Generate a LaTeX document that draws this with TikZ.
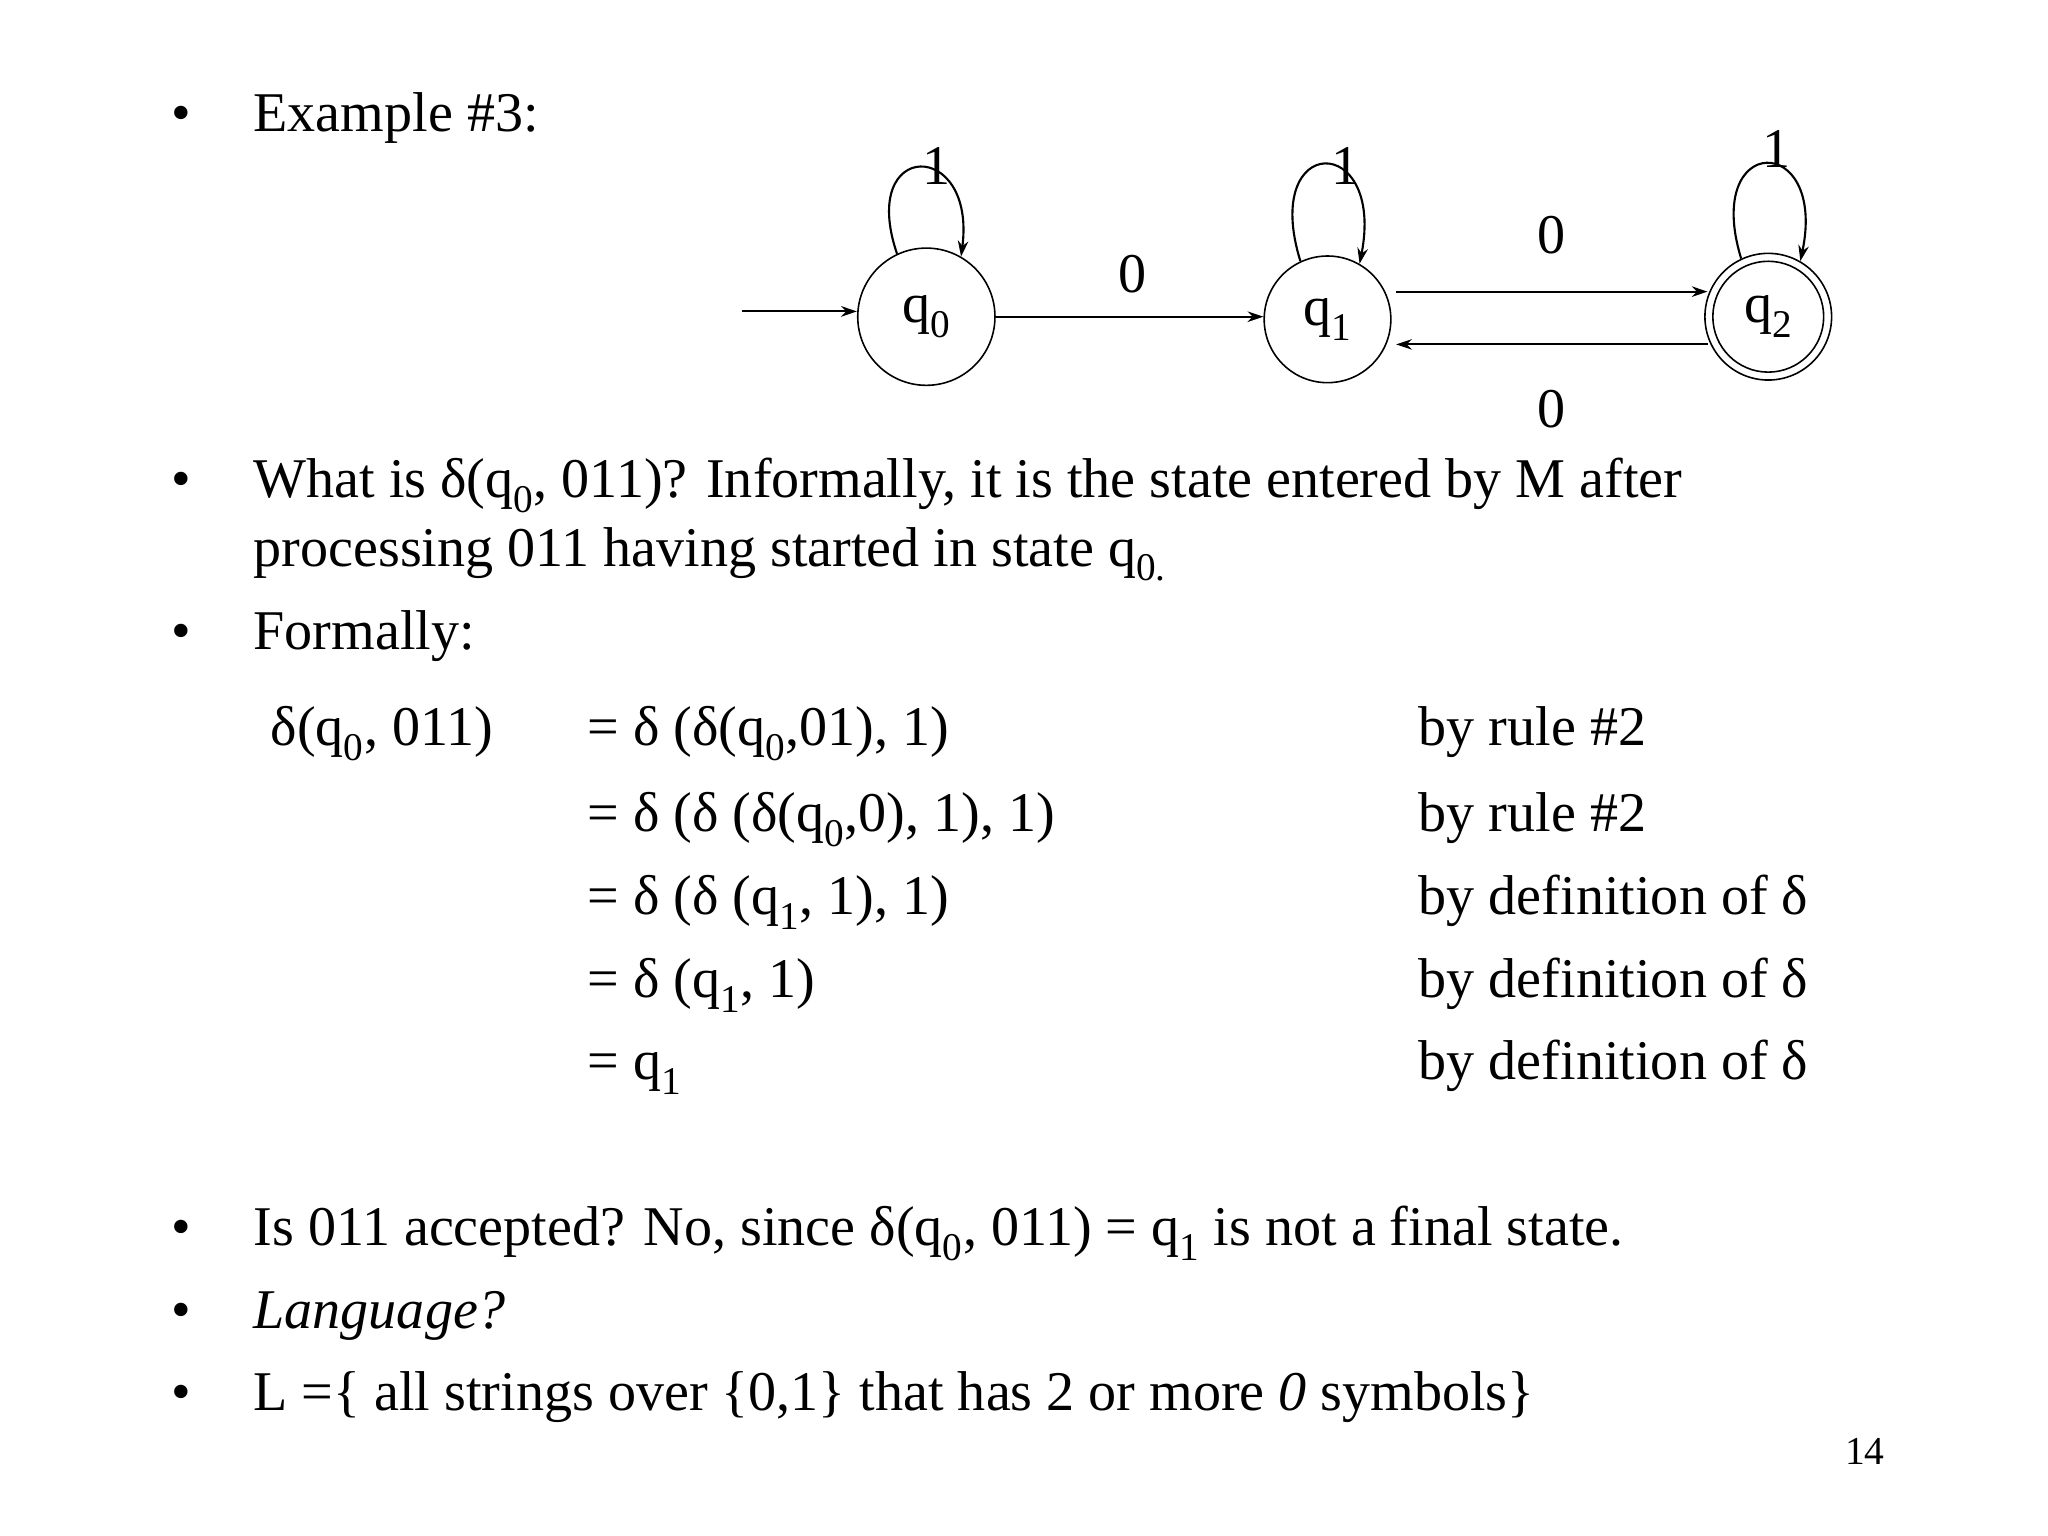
\documentclass[tikz,border=0pt]{standalone}
\usepackage{fontspec}
\setmainfont{Liberation Serif}
\usetikzlibrary{arrows.meta}
\newcommand{\ssb}[1]{\textsubscript{#1}}
\begin{document}
\begin{tikzpicture}[x=1pt,y=-1pt,
  txt/.style={anchor=base west,inner sep=0,font=\fontsize{42.5}{48}\selectfont},
  lbl/.style={inner sep=0,font=\fontsize{42.5}{48}\selectfont},
  st/.style={circle,draw,line width=1.2pt,inner sep=0,font=\fontsize{42.5}{48}\selectfont},
  ar/.style={-{Stealth[length=12pt,width=8pt]},line width=1.6pt}]
\useasboundingbox (0,0) rectangle (1552,1164);
\fill[white] (0,0) rectangle (1552,1164);
% bullets
\foreach \y/\n in {100/b1,377/b2,492/b3,944/b4,1007/b5,1069/b6}{\node[txt] (\n) at (130,\y) {•};}
\node[txt] (t1) at (192,100) {Example \#3:};
\node[txt] (t2) at (192,377) {What is δ(q\ssb{0}, 011)? Informally, it is the state entered by M after};
\node[txt] (t3) at (192,429) {processing 011 having started in state q\ssb{0.}};
\node[txt] (t4) at (192,492) {Formally:};
\node[txt] (f0) at (205,565) {δ(q\ssb{0}, 011)};
\node[txt] (f1) at (445,565) {= δ (δ(q\ssb{0},01), 1)};
\node[txt] (f2) at (445,630) {= δ (δ (δ(q\ssb{0},0), 1), 1)};
\node[txt] (f3) at (445,693) {= δ (δ (q\ssb{1}, 1), 1)};
\node[txt] (f4) at (445,756) {= δ (q\ssb{1}, 1)};
\node[txt] (f5) at (445,818) {= q\ssb{1}};
\node[txt] (r1) at (1075,565) {by rule \#2};
\node[txt] (r2) at (1075,630) {by rule \#2};
\node[txt] (r3) at (1075,693) {by definition of δ};
\node[txt] (r4) at (1075,756) {by definition of δ};
\node[txt] (r5) at (1075,818) {by definition of δ};
\node[txt] (t5) at (192,944) {Is 011 accepted? No, since δ(q\ssb{0}, 011) = q\ssb{1} is not a final state.};
\node[txt] (t6) at (192,1007) {\itshape Language?};
\node[txt] (t7) at (192,1069) {L =\{ all strings over \{0,1\} that has 2 or more \textit{0} symbols\}};
\node[txt,font=\fontsize{30}{34}\selectfont] (pg) at (1398,1110) {14};
% automaton
\node[st,minimum size=104pt] (q0) at (702,240) {q\ssb{0}};
\node[st,minimum size=96pt] (q1) at (1006,242) {q\ssb{1}};
\node[st,minimum size=96pt] (q2) at (1340,240) {q\ssb{2}};
\draw[line width=1.2pt] (q2.center) circle (42pt);
\coordinate (init) at (562,236);
\draw[ar] (init) -- (q0.west |- init);
\draw[ar] (q0.east) -- (q1.west |- q0.east);
\node[lbl] (l01) at (858,208) {0};
\draw[ar] (1058,221) -- (1294,221);
\node[lbl] (l12) at (1176,178) {0};
\draw[ar] (1294,261) -- (1058,261);
\node[lbl] (l21) at (1176,310) {0};
\draw[ar] (q0.115) .. controls (650,105) and (740,105) .. (q0.60);
\node[lbl] (la) at (710,126) {1};
\draw[ar] (q1.115) .. controls (955,100) and (1050,100) .. (q1.60);
\node[lbl] (lb) at (1020,126) {1};
\draw[ar] (q2.115) .. controls (1290,100) and (1385,100) .. (q2.60);
\node[lbl] (lc) at (1346,113) {1};
\end{tikzpicture}
\end{document}
